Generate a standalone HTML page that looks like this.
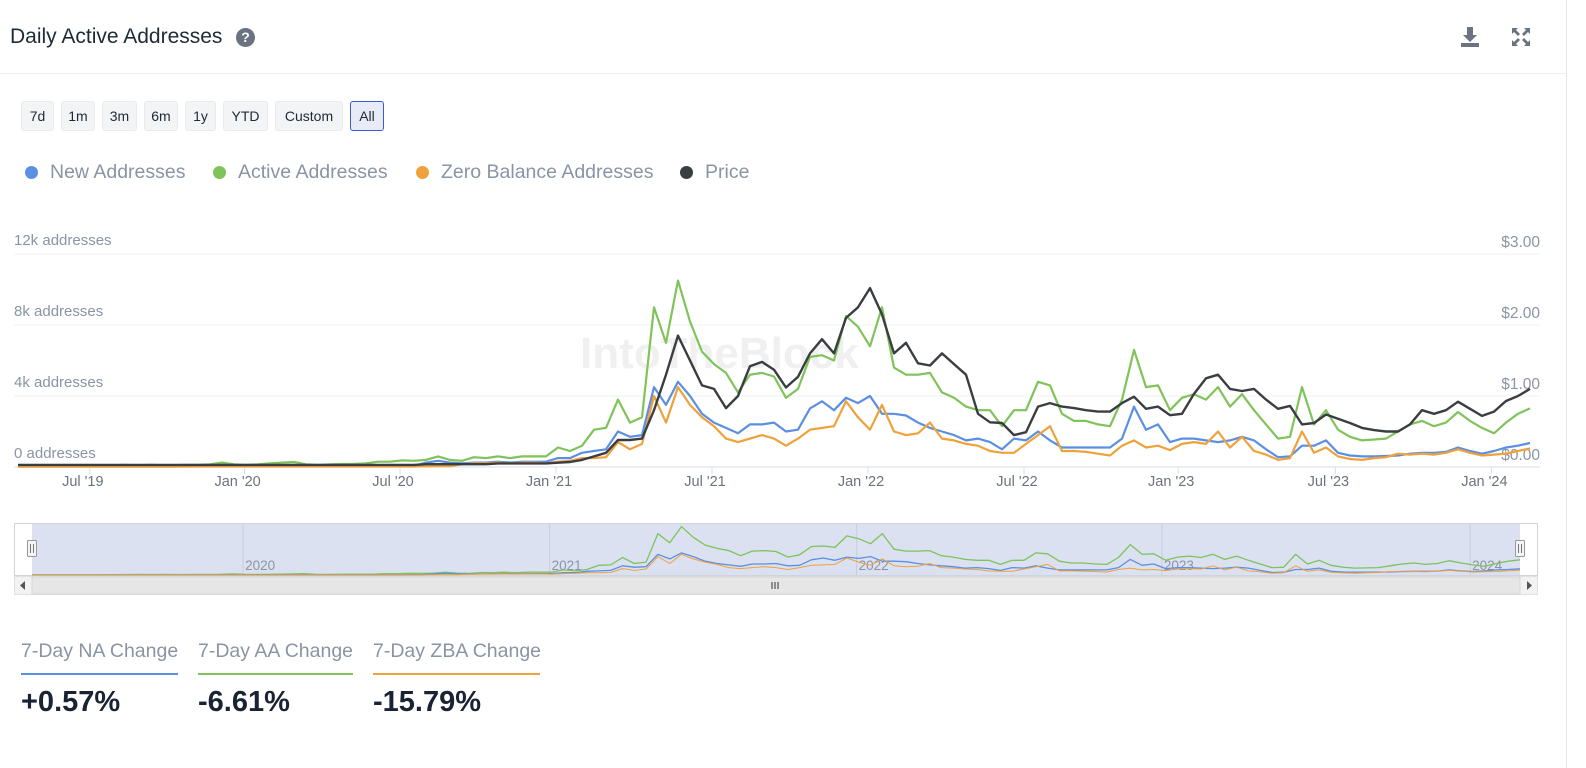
<!DOCTYPE html>
<html><head><meta charset="utf-8"><style>
body{margin:0;width:1586px;height:768px;background:#fff;font-family:"Liberation Sans",sans-serif;overflow:hidden;position:relative}
.abs{position:absolute}
.btn{position:absolute;top:101px;height:30px;border:1px solid #e8eaee;background:#f3f4f6;border-radius:3px;font-size:14px;color:#1f2937;display:flex;align-items:center;justify-content:center;box-sizing:border-box}
.btn.sel{border:1px solid #3b5bdb;background:#e7ebf7}
.leg{position:absolute;top:161px;font-size:19.5px;color:#8a94a6;white-space:nowrap}
.dot{position:absolute;top:166px;width:13px;height:13px;border-radius:50%}
.stl{position:absolute;top:640px;font-size:19.5px;color:#8a94a6;padding-bottom:10px;white-space:nowrap}
.stv{position:absolute;top:686px;font-size:29px;font-weight:bold;color:#1a2333}
</style></head><body>
<div class="abs" style="left:10px;top:25px;font-size:21px;color:#1f2a37">Daily Active Addresses</div>
<div class="abs" style="left:236px;top:28px;width:19px;height:19px;border-radius:50%;background:#6b7280;color:#fff;font-size:14px;font-weight:bold;text-align:center;line-height:19px">?</div>
<svg class="abs" style="left:1459px;top:25px" width="22" height="24" viewBox="0 0 22 24"><path d="M8 2h6v8h4l-7 7-7-7h4z" fill="#6b7280"/><rect x="2" y="18" width="18" height="4" fill="#6b7280"/></svg>
<svg class="abs" style="left:1511px;top:27px" width="20" height="20" viewBox="0 0 20 20"><path d="M1 1h6l-2 2 4 4-2 2-4-4-2 2zM19 1v6l-2-2-4 4-2-2 4-4-2-2zM1 19v-6l2 2 4-4 2 2-4 4 2 2zM19 19h-6l2-2-4-4 2-2 4 4 2-2z" fill="#6b7280"/></svg>
<div class="abs" style="left:0;top:73px;width:1566px;height:1px;background:#eceef1"></div>
<div class="abs" style="left:1566px;top:0;width:1px;height:768px;background:#e5e7eb"></div>
<div class="btn" style="left:21px;width:33px">7d</div>
<div class="btn" style="left:61px;width:34px">1m</div>
<div class="btn" style="left:102px;width:35px">3m</div>
<div class="btn" style="left:144px;width:34px">6m</div>
<div class="btn" style="left:185px;width:31px">1y</div>
<div class="btn" style="left:223px;width:45px">YTD</div>
<div class="btn" style="left:275px;width:68px">Custom</div>
<div class="btn sel" style="left:350px;width:34px">All</div>
<div class="dot" style="left:25px;background:#5b8fe3"></div>
<div class="leg" style="left:50px">New Addresses</div>
<div class="dot" style="left:213px;background:#7fc35a"></div>
<div class="leg" style="left:238px">Active Addresses</div>
<div class="dot" style="left:416px;background:#eea23b"></div>
<div class="leg" style="left:441px">Zero Balance Addresses</div>
<div class="dot" style="left:680px;background:#3a3d42"></div>
<div class="leg" style="left:705px">Price</div>
<svg id="chart" class="abs" style="left:0;top:0" width="1586" height="620"></svg>
<div class="stl" style="left:21px;width:157px;border-bottom:2px solid #5b8fe3">7-Day NA Change</div>
<div class="stl" style="left:198px;width:155px;border-bottom:2px solid #7fc35a">7-Day AA Change</div>
<div class="stl" style="left:373px;width:167px;border-bottom:2px solid #eea23b">7-Day ZBA Change</div>
<div class="stv" style="left:21px">+0.57%</div>
<div class="stv" style="left:198px">-6.61%</div>
<div class="stv" style="left:373px">-15.79%</div>
<script>
const activeK=[.05,.05,.05,.05,.05,.05,.08,.08,.1,.12,.1,.12,.1,.1,.12,.12,.15,.25,.15,.12,.15,.2,.25,.28,.15,.12,.15,.17,.17,.2,.3,.3,.37,.35,.4,.6,.4,.35,.55,.5,.6,.5,.6,.6,
.6,1.1,.9,1.2,2.1,2.2,3.8,2.5,2.8,9.0,7.0,10.5,8.2,6.5,5.8,5.3,4.2,5.2,5.3,5.1,3.9,4.4,6.2,6.3,6.0,8.5,7.9,6.8,9.0,5.6,5.2,5.2,5.3,4.2,3.9,3.4,3.2,3.2,2.3,3.2,3.2,4.8,4.6,3.0,2.6,2.6,2.4,2.3,3.8,6.6,4.5,4.6,3.2,3.9,4.1,3.8,4.5,3.4,4.1,3.2,2.4,1.6,1.7,4.5,2.4,3.2,2.1,1.7,1.5,1.55,1.6,2.0,2.4,2.6,2.3,2.5,3.1,2.6,2.2,1.9,2.5,3.0,3.3];
const newK=[.03,.03,.03,.03,.03,.03,.03,.03,.03,.03,.03,.03,.03,.03,.04,.04,.04,.05,.04,.04,.04,.05,.05,.05,.04,.04,.04,.05,.05,.05,.05,.05,.06,.06,.25,.35,.25,.2,.25,.25,.3,.25,.3,.3,
.3,.5,.5,.8,.9,1.0,2.0,1.7,1.8,4.5,3.5,4.8,4.0,3.0,2.5,2.2,1.9,2.4,2.4,2.5,2.0,2.1,3.3,3.7,3.2,3.9,3.6,4.0,3.0,3.0,2.9,2.5,2.2,2.0,1.8,1.5,1.6,1.4,1.0,1.6,1.5,2.0,1.5,1.1,1.1,1.1,1.1,1.1,1.6,3.4,2.1,2.4,1.4,1.6,1.6,1.5,1.4,1.5,1.7,1.5,1.0,.55,.6,1.2,1.2,1.5,.8,.65,.6,.6,.62,.65,.75,.8,.8,.85,1.1,.9,.75,.9,1.1,1.2,1.35];
const zeroK=[.02,.02,.02,.02,.02,.02,.02,.02,.02,.02,.02,.02,.02,.02,.02,.03,.03,.03,.03,.03,.03,.03,.03,.03,.03,.03,.03,.03,.03,.03,.03,.03,.03,.03,.04,.05,.05,.15,.2,.2,.25,.2,.25,.25,
.2,.3,.35,.5,.5,.55,1.4,1.0,1.3,4.0,2.5,4.5,3.5,2.8,2.3,1.6,1.4,1.6,1.8,1.6,1.2,1.6,2.1,2.2,2.3,3.7,2.8,2.1,3.5,2.0,1.8,1.9,2.5,1.6,1.5,1.3,1.2,.9,.8,.8,1.3,1.8,2.3,.9,.9,.85,.75,.65,1.2,1.5,1.1,1.2,.95,1.3,1.4,1.3,2.0,1.1,1.7,.9,.7,.4,.5,2.0,.8,1.1,.6,.45,.4,.5,.55,.75,.7,.75,.7,.8,1.0,.8,.65,.7,.75,.9,1.05];
const priceUsd=[.03,.03,.03,.03,.03,.03,.03,.03,.03,.03,.03,.03,.03,.03,.03,.03,.03,.03,.03,.03,.03,.03,.03,.03,.03,.03,.03,.03,.03,.03,.03,.03,.03,.03,.04,.04,.04,.04,.04,.04,.05,.05,.05,.05,
.05,.06,.07,.1,.15,.2,.38,.38,.4,.8,1.3,1.85,1.5,1.15,1.1,.83,1.0,1.42,1.48,1.37,1.12,1.27,1.6,1.8,1.6,2.1,2.25,2.52,2.15,1.6,1.75,1.46,1.43,1.6,1.45,1.3,.75,.63,.62,.45,.49,.85,.9,.85,.83,.8,.78,.78,.9,.99,.82,.85,.73,.75,1.03,1.25,1.3,1.1,1.07,1.1,.95,.82,.86,.6,.62,.74,.68,.62,.55,.52,.5,.5,.6,.8,.75,.8,.92,.82,.72,.78,.93,1.0,1.1];
const xTickLabels=["Jul '19","Jan '20","Jul '20","Jan '21","Jul '21","Jan '22","Jul '22","Jan '23","Jul '23","Jan '24"];
const xTickIdx=[5.4,18.3,31.25,44.25,57.25,70.25,83.25,96.1,109.2,122.2];
const yTickLabels=["0 addresses","4k addresses","8k addresses","12k addresses"];
const yTickVals=[0,4,8,12];
const pTickLabels=["$0.00","$1.00","$2.00","$3.00"];
const pTickVals=[0,1,2,3];
const navTickLabels=["2020","2021","2022","2023","2024"];
const navTickIdx=[18.3,44.25,70.25,96.1,122.2];

const NS="http://www.w3.org/2000/svg";
const svg=document.getElementById('chart');
const N=activeK.length;
const X0=18,X1=1530;
const xS=i=>X0+i*(X1-X0)/(N-1);
const yS=v=>467-v*17.75;
const pS=v=>467-v*71;
const nX=i=>32+i*(1520-32)/(N-1);
const nY=v=>575-v*4.6;
function mk(t,a,p){const e=document.createElementNS(NS,t);for(const k in a)e.setAttribute(k,a[k]);(p||svg).appendChild(e);return e;}

const wm=mk('text',{x:580,y:368,'font-size':44,'font-weight':'bold',fill:'#f0f0f0','font-family':'Liberation Sans, sans-serif'});


wm.textContent='IntoTheBlock';

yTickVals.forEach((v,k)=>{
  const g=mk('line',{x1:14,x2:1540,y1:yS(v),y2:yS(v),stroke:k===0?'#d9deea':'#f0f1f3','stroke-width':1});
  
  
  const t=mk('text',{x:14,y:yS(v)-9,'font-size':15,fill:'#8a94a6','font-family':'Liberation Sans, sans-serif'});
  
  
  t.textContent=yTickLabels[k];
});
pTickVals.forEach((v,k)=>{
  const t=mk('text',{x:1540,y:pS(v)-7,'font-size':15.5,fill:'#8a94a6','text-anchor':'end','font-family':'Liberation Sans, sans-serif'});
  
  
  t.textContent=pTickLabels[k];
});
xTickIdx.forEach((ix,k)=>{
  const x=xS(ix);
  const l=mk('line',{x1:x+7,x2:x+7,y1:467,y2:474,stroke:'#d9deea'});
  
  
  const t=mk('text',{x:x,y:486,'font-size':14.5,fill:'#6b7280','text-anchor':'middle','font-family':'Liberation Sans, sans-serif'});
  
  
  t.textContent=xTickLabels[k];
});
function line(arr,xf,yf,color,w,name){
  const d=arr.map((v,i)=>(i?'L':'M')+xf(i).toFixed(1)+' '+yf(v).toFixed(1)).join(' ');
  const p=mk('path',{d:d,fill:'none',stroke:color,'stroke-width':w,'stroke-linejoin':'round'});
  
  
}
line(activeK,xS,yS,'#7fc35a',2.2,'active-addresses-line');
line(newK,xS,yS,'#5b8fe3',2.2,'new-addresses-line');
line(zeroK,xS,yS,'#eea23b',2.2,'zero-balance-line');
line(priceUsd,xS,pS,'#3a3d42',2.4,'price-line');

const nb=mk('rect',{x:14.5,y:523.5,width:1523,height:52,fill:'#fff',stroke:'#d0d4dc'});


const ns=mk('rect',{x:32,y:524,width:1488,height:51,fill:'#dbe1f1'});


navTickIdx.forEach((ix,k)=>{
  const x=nX(ix);
  const l=mk('line',{x1:x-5,x2:x-5,y1:524,y2:575,stroke:'#c7cddb'});
  
  
  const t=mk('text',{x:x-3,y:570,'font-size':13.5,fill:'#8a94a6','font-family':'Liberation Sans, sans-serif'});
  
  
  t.textContent=navTickLabels[k];
});
line(activeK,nX,nY,'#7fc35a',1.3,'navigator-active-line');
line(newK,nX,nY,'#5b8fe3',1.3,'navigator-new-line');
line(zeroK,nX,nY,'#eea23b',1,'navigator-zero-line');
[32,1520].forEach((x,k)=>{
  const h=mk('rect',{x:x-4.5,y:540.5,width:9,height:16,fill:'#f3f4f6',stroke:'#999',rx:1});
  
  
  mk('line',{x1:x-1.5,x2:x-1.5,y1:544,y2:553,stroke:'#777'});
  mk('line',{x1:x+1.5,x2:x+1.5,y1:544,y2:553,stroke:'#777'});
});
const sb=mk('rect',{x:14.5,y:576.5,width:1523,height:18,fill:'#f2f2f2',stroke:'#e0e0e0'});


const th=mk('rect',{x:32,y:577,width:1488,height:17,fill:'#e6e6e6',stroke:'#d6d6d6'});


[772,775,778].forEach(x=>mk('line',{x1:x,x2:x,y1:582,y2:589,stroke:'#333'}));
const la=mk('path',{d:'M25 581 L20 585.5 L25 590 Z',fill:'#555'});


const ra=mk('path',{d:'M1527 581 L1532 585.5 L1527 590 Z',fill:'#555'});


</script>
</body></html>
